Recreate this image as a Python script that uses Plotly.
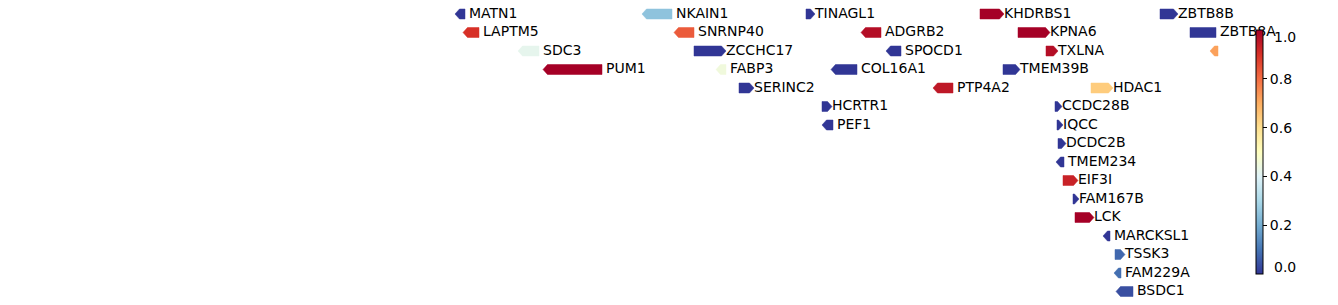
import plotly.graph_objects as go
import plotly.colors as pc

# gene track data (x in track units, row index, strand, score)
gene_names = ["MATN1", "NKAIN1", "TINAGL1", "KHDRBS1", "ZBTB8B",
              "LAPTM5", "SNRNP40", "ADGRB2", "KPNA6", "ZBTB8A",
              "SDC3", "ZCCHC17", "SPOCD1", "TXLNA", "",
              "PUM1", "FABP3", "COL16A1", "TMEM39B",
              "SERINC2", "PTP4A2", "HDAC1",
              "HCRTR1", "CCDC28B",
              "PEF1", "IQCC",
              "DCDC2B", "TMEM234", "EIF3I", "FAM167B", "LCK",
              "MARCKSL1", "TSSK3", "FAM229A", "BSDC1"]
gene_start = [455, 642, 806, 980, 1160,
              463, 674, 861, 1018, 1190,
              518, 694, 886, 1046, 1210,
              543, 716, 831, 1003,
              739, 933, 1091,
              822, 1055,
              822, 1057,
              1058, 1056, 1063, 1073, 1075,
              1103, 1115, 1114, 1116]
gene_end = [465, 672, 815, 1004, 1178,
            479, 694, 881, 1050, 1216,
            539, 726, 901, 1058, 1218,
            602, 726, 857, 1020,
            754, 953, 1113,
            832, 1062,
            833, 1063,
            1066, 1064, 1078, 1079, 1094,
            1110, 1125, 1121, 1133]
gene_strand = [-1, -1, 1, 1, 1,
               -1, -1, -1, 1, 0,
               -1, 1, -1, 1, -1,
               -1, -1, -1, 1,
               1, -1, 1,
               1, 1,
               -1, 1,
               1, -1, 1, 1, 1,
               -1, 1, -1, -1]
gene_row = [0, 0, 0, 0, 0,
            1, 1, 1, 1, 1,
            2, 2, 2, 2, 2,
            3, 3, 3, 3,
            4, 4, 4,
            5, 5,
            6, 6,
            7, 8, 9, 10, 11,
            12, 13, 14, 15]
gene_score = [0.0, 0.25, 0.0, 1.0, 0.0,
              0.9, 0.83, 0.97, 1.0, 0.0,
              0.42, 0.0, 0.0, 0.97, 0.72,
              1.0, 0.45, 0.0, 0.0,
              0.0, 0.95, 0.64,
              0.0, 0.0,
              0.0, 0.0,
              0.0, 0.0, 0.93, 0.0, 1.0,
              0.0, 0.08, 0.09, 0.04]

cbar_ticks = [0.2, 0.4, 0.6, 0.8]
cbar_ticktext = ["0.2", "0.4", "0.6", "0.8"]
cbar_end_labels = ["0.0", "1.0"]

cscale = list(reversed(pc.diverging.RdYlBu))
colors = pc.sample_colorscale(cscale, gene_score)

HEAD = 4.5
HALF = 0.27

fig = go.Figure()
for s, e, st, r, c in zip(gene_start, gene_end, gene_strand, gene_row, colors):
    h = min(HEAD, e - s)
    if st == 1:
        xs = [s, e - h, e, e - h, s, s]
        ys = [r - HALF, r - HALF, r, r + HALF, r + HALF, r - HALF]
    elif st == -1:
        xs = [s, s + h, e, e, s + h, s]
        ys = [r, r - HALF, r - HALF, r + HALF, r + HALF, r]
    else:
        xs = [s, e, e, s, s]
        ys = [r - HALF, r - HALF, r + HALF, r + HALF, r - HALF]
    fig.add_trace(go.Scatter(x=xs, y=ys, fill="toself", fillcolor=c,
                             mode="lines", line=dict(color=c, width=0.5),
                             hoverinfo="skip", showlegend=False))

label_x = [e + (0 if st == 1 else 4) for e, st in zip(gene_end, gene_strand)]
fig.add_trace(go.Scatter(x=label_x, y=gene_row, text=gene_names, mode="text",
                         textposition="middle right",
                         textfont=dict(family="DejaVu Sans", size=14, color="black"),
                         cliponaxis=False, hoverinfo="skip", showlegend=False))

# colorbar carrier
CB_TOP, CB_BOT = 30, 274
fig.add_trace(go.Scatter(x=[None], y=[None], mode="markers", showlegend=False,
                         marker=dict(color=[0], cmin=0, cmax=1, colorscale=cscale,
                                     showscale=True,
                                     colorbar=dict(x=1256 / 1338, xanchor="left",
                                                   y=1 - (CB_TOP + CB_BOT) / 2 / 305, yanchor="middle",
                                                   len=(CB_BOT - CB_TOP) / 305, lenmode="fraction",
                                                   thickness=7, outlinewidth=1,
                                                   outlinecolor="black",
                                                   ticks="outside", ticklen=4,
                                                   tickcolor="black",
                                                   tickvals=cbar_ticks,
                                                   ticktext=cbar_ticktext,
                                                   tickfont=dict(family="DejaVu Sans", size=14, color="black"),
                                                   xpad=0, ypad=0))))

for lab, ypx in zip(cbar_end_labels, [267, 37]):
    fig.add_annotation(x=1272 / 1338, y=1 - ypx / 305, xref="paper", yref="paper",
                       xanchor="left", yanchor="middle", showarrow=False, text=lab,
                       font=dict(family="DejaVu Sans", size=14, color="black"))

fig.update_layout(width=1338, height=305, margin=dict(l=0, r=0, t=0, b=0),
                  paper_bgcolor="white", plot_bgcolor="white",
                  xaxis=dict(range=[0, 1338], visible=False, fixedrange=True),
                  yaxis=dict(range=[(305 - 14) / 18.5, -14 / 18.5], visible=False),
                  showlegend=False)
fig.write_html("out.html")
